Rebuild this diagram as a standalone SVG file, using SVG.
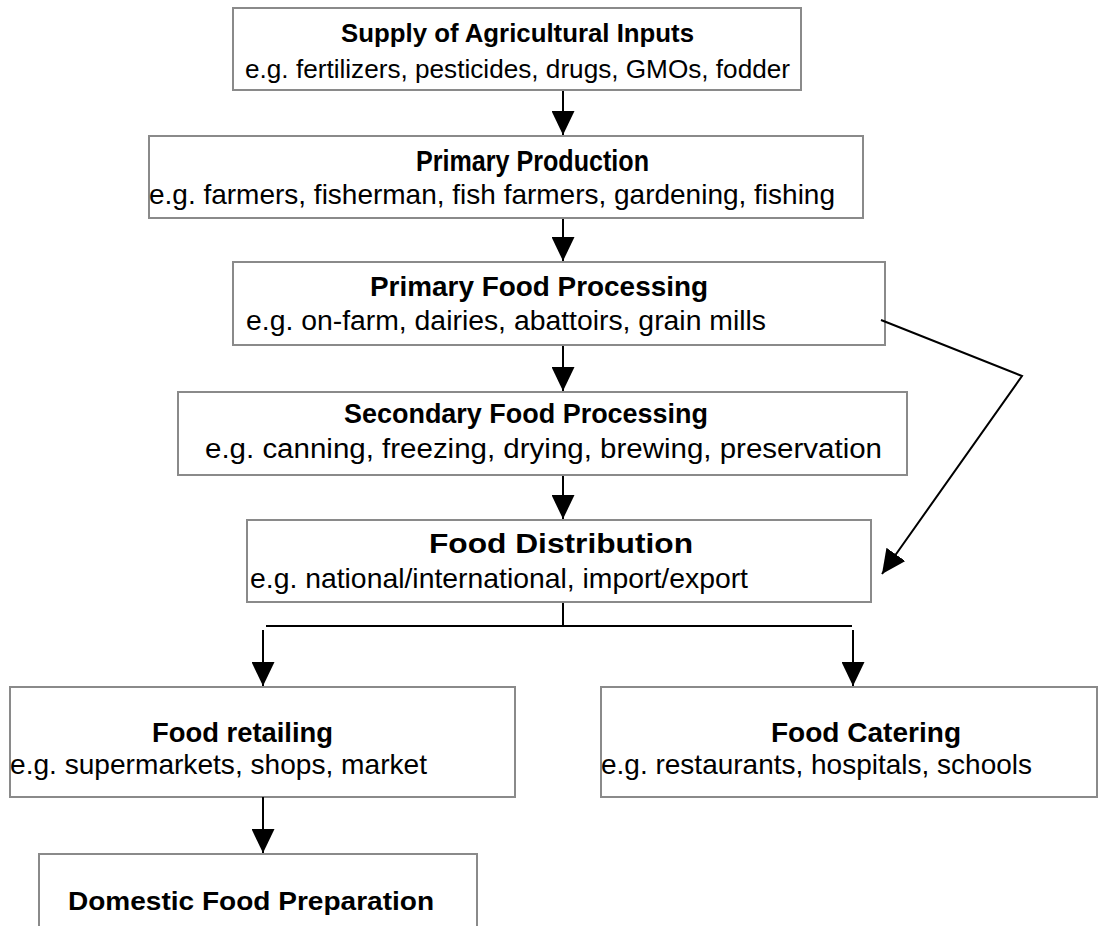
<svg xmlns="http://www.w3.org/2000/svg" width="1099" height="926" viewBox="0 0 1099 926">
<style>
.box{fill:#fff;stroke:#8a8a8a;stroke-width:2}
.t{font-family:"Liberation Sans",Arial,sans-serif;font-weight:bold;fill:#000}
.s{font-family:"Liberation Sans",Arial,sans-serif;fill:#000}
.f26{font-size:26px}
.f27{font-size:27px}
.f28{font-size:28px}
.f29{font-size:29px}
.c{fill:none;stroke:#000;stroke-width:2}
</style>
<defs>
<marker id="ah" markerUnits="userSpaceOnUse" markerWidth="24" markerHeight="23" refX="24" refY="11.5" orient="auto" viewBox="0 0 24 23">
<path d="M0,0 L24,11.5 L0,23 Z" fill="#000"/>
</marker>
</defs>
<rect width="1099" height="926" fill="#fff"/>
<g id="n1">
<rect class="box" x="233" y="8" width="568" height="82"/>
<text class="t f26" x="341" y="42" textLength="353" lengthAdjust="spacingAndGlyphs">Supply of Agricultural Inputs</text>
<text class="s f26" x="245" y="78" textLength="545" lengthAdjust="spacingAndGlyphs">e.g. fertilizers, pesticides, drugs, GMOs, fodder</text>
</g>
<g id="n2">
<rect class="box" x="149" y="136" width="714" height="82"/>
<text class="t f29" x="416" y="171" textLength="233" lengthAdjust="spacingAndGlyphs">Primary Production</text>
<text class="s f28" x="149" y="204" textLength="686" lengthAdjust="spacingAndGlyphs">e.g. farmers, fisherman, fish farmers, gardening, fishing</text>
</g>
<g id="n3">
<rect class="box" x="233" y="262" width="652" height="83"/>
<text class="t f28" x="370" y="296" textLength="338" lengthAdjust="spacingAndGlyphs">Primary Food Processing</text>
<text class="s f27" x="246" y="330" textLength="520" lengthAdjust="spacingAndGlyphs">e.g. on-farm, dairies, abattoirs, grain mills</text>
</g>
<g id="n4">
<rect class="box" x="178" y="392" width="729" height="83"/>
<text class="t f27" x="344" y="423" textLength="364" lengthAdjust="spacingAndGlyphs">Secondary Food Processing</text>
<text class="s f27" x="205" y="458" textLength="677" lengthAdjust="spacingAndGlyphs">e.g. canning, freezing, drying, brewing, preservation</text>
</g>
<g id="n5">
<rect class="box" x="247" y="520" width="624" height="82"/>
<text class="t f28" x="429" y="553" textLength="264" lengthAdjust="spacingAndGlyphs">Food Distribution</text>
<text class="s f28" x="250" y="588" textLength="498" lengthAdjust="spacingAndGlyphs">e.g. national/international, import/export</text>
</g>
<g id="n6">
<rect class="box" x="10" y="687" width="505" height="110"/>
<text class="t f28" x="152" y="742" textLength="181" lengthAdjust="spacingAndGlyphs">Food retailing</text>
<text class="s f28" x="10" y="774" textLength="417" lengthAdjust="spacingAndGlyphs">e.g. supermarkets, shops, market</text>
</g>
<g id="n7">
<rect class="box" x="601" y="687" width="496" height="110"/>
<text class="t f28" x="771" y="742" textLength="190" lengthAdjust="spacingAndGlyphs">Food Catering</text>
<text class="s f28" x="601" y="774" textLength="431" lengthAdjust="spacingAndGlyphs">e.g. restaurants, hospitals, schools</text>
</g>
<g id="n8">
<rect class="box" x="39" y="854" width="438" height="90"/>
<text class="t f26" x="68" y="910" textLength="366" lengthAdjust="spacingAndGlyphs">Domestic Food Preparation</text>
</g>
<g id="connectors">
<line class="c" x1="563" y1="91" x2="563" y2="135" marker-end="url(#ah)"/>
<line class="c" x1="563" y1="219" x2="563" y2="261" marker-end="url(#ah)"/>
<line class="c" x1="563" y1="346" x2="563" y2="391" marker-end="url(#ah)"/>
<line class="c" x1="563" y1="476" x2="563" y2="519" marker-end="url(#ah)"/>
<polyline class="c" points="881,320 1022,376 882,574" marker-end="url(#ah)"/>
<line class="c" x1="563" y1="603" x2="563" y2="626"/>
<line class="c" x1="266" y1="626" x2="852" y2="626"/>
<line class="c" x1="263" y1="630" x2="263" y2="686" marker-end="url(#ah)"/>
<line class="c" x1="853" y1="630" x2="853" y2="686" marker-end="url(#ah)"/>
<line class="c" x1="263" y1="797" x2="263" y2="853" marker-end="url(#ah)"/>
</g>
</svg>
